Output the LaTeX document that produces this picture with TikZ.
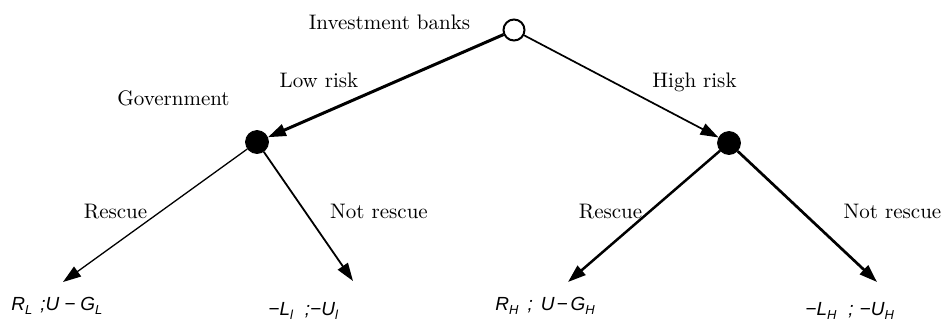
\documentclass[tikz,border=0pt]{standalone}
\usepackage{fontspec}
\usetikzlibrary{arrows.meta}
\newfontfamily\arialfont{Liberation Sans}
\newcommand{\subx}[1]{\raisebox{-0.45ex}{\fontsize{6.5}{7}\selectfont #1}}
\tikzset{
  lbl/.style={font=\fontsize{10.5}{12}\selectfont, inner sep=0pt},
  pay/.style={font=\arialfont\itshape\fontsize{9.5}{11}\selectfont, inner sep=0pt, anchor=base west},
  arr/.style={-{Triangle[length=9pt,width=6pt]}},
  rootnode/.style={circle, draw, line width=1pt, fill=white, minimum size=10.5pt, inner sep=0pt},
  decnode/.style={circle, fill=black, draw=black, minimum size=11.5pt, inner sep=0pt}
}
\begin{document}
\begin{tikzpicture}[x=0.5pt,y=-0.5pt]
\useasboundingbox (0,0) rectangle (946,322);
% nodes
\node[rootnode] (root) at (514,30) {};
\node[decnode] (gov) at (257,142) {};
\node[decnode] (govh) at (729,143) {};
\coordinate (t1) at (63,282);
\coordinate (t2) at (353,281);
\coordinate (t3) at (568,282);
\coordinate (t4) at (877,282);
% edges
\draw[arr, line width=1.5pt] (root) -- (gov);
\draw[arr, line width=0.85pt] (root) -- (govh);
\draw[arr, line width=0.65pt] (gov) -- (t1);
\draw[arr, line width=0.9pt] (gov) -- (t2);
\draw[arr, line width=1.25pt] (govh) -- (t3);
\draw[arr, line width=1.35pt] (govh) -- (t4);
% labels
\node[lbl, anchor=base] (ib) at (389.5,29.5) {Investment banks};
\node[lbl, anchor=base] (lr) at (319,87) {Low risk};
\node[lbl, anchor=base] (hr) at (694.5,87) {High risk};
\node[lbl, anchor=base east] (gv) at (230,105) {Government};
\node[lbl, anchor=base] (r1) at (115.5,218) {Rescue};
\node[lbl, anchor=base] (n1) at (379,218) {Not rescue};
\node[lbl, anchor=base] (r2) at (610.5,218) {Rescue};
\node[lbl, anchor=base] (n2) at (892.5,218) {Not rescue};
% payoffs
\node[pay] (p1) at (11,310) {R\subx{L}\hspace{4pt};U\hspace{2.5pt}−\hspace{2.5pt}G\subx{L}};
\node[pay] (p2) at (268,315) {−L\subx{l}\hspace{6pt};−U\subx{l}};
\node[pay] (p3) at (495,310) {R\subx{H}\hspace{4.5pt};\hspace{4pt}U\hspace{1pt}−\hspace{1.5pt}G\subx{H}};
\node[pay] (p4) at (805,315) {−L\subx{H}\hspace{6pt};\hspace{3pt}−U\subx{H}};
\end{tikzpicture}
\end{document}
